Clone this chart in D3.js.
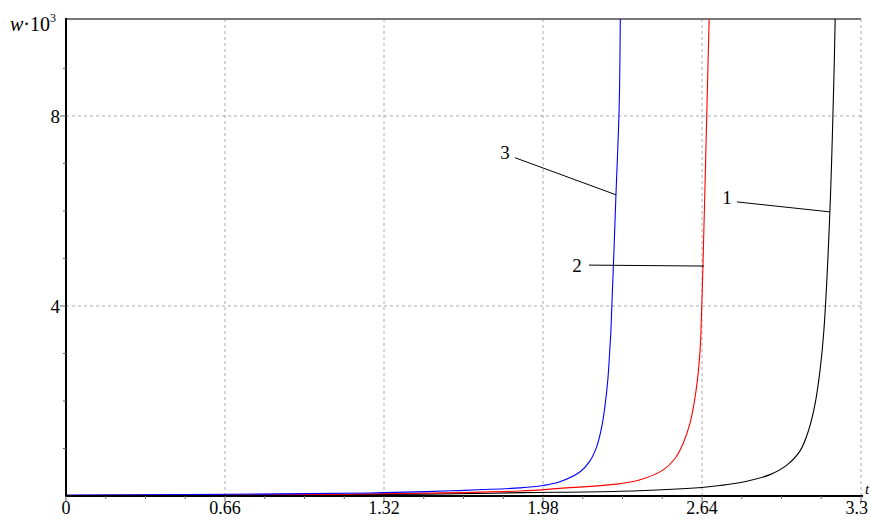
<!DOCTYPE html>
<html>
<head>
<meta charset="utf-8">
<script src="https://cdn.jsdelivr.net/npm/d3@7"></script>
<style>
  body { margin: 0; background: #fff; }
  text { font-family: "Liberation Serif", "Times New Roman", serif; }
</style>
</head>
<body>
<svg id="chart" width="870" height="520"></svg>
<script>
// curve 1 (black)
var t1 = [0, 0.5, 1.0, 1.5, 1.9, 2.3, 2.64, 2.715, 2.826, 2.922, 2.992, 3.047, 3.081, 3.109, 3.13, 3.146, 3.171, 3.188, 3.193];
var w1 = [0.01, 0.015, 0.025, 0.04, 0.07, 0.10, 0.18, 0.22, 0.31, 0.45, 0.65, 0.95, 1.36, 1.93, 2.65, 3.49, 6.0, 8.9, 10.1];
// curve 2 (red)
var t2 = [0, 0.5, 1.0, 1.5, 1.885, 2.05, 2.30, 2.383, 2.479, 2.528, 2.562, 2.59, 2.607, 2.621, 2.632, 2.636, 2.644, 2.663, 2.67];
var w2 = [0.01, 0.02, 0.03, 0.06, 0.105, 0.16, 0.26, 0.34, 0.55, 0.79, 1.11, 1.53, 1.95, 2.44, 3.07, 3.49, 4.84, 8.7, 10.1];
// curve 3 (blue)
var t3 = [0, 0.5, 1.0, 1.32, 1.6, 1.885, 1.979, 2.05, 2.134, 2.175, 2.203, 2.224, 2.237, 2.249, 2.258, 2.262, 2.283, 2.296, 2.301];
var w3 = [0.02, 0.03, 0.05, 0.07, 0.11, 0.17, 0.22, 0.30, 0.51, 0.74, 1.04, 1.46, 1.88, 2.44, 3.14, 3.49, 6.36, 8.15, 10.1];

var xTicks = [0, 0.66, 1.32, 1.98, 2.64, 3.3];
var yTicks = [4, 8];
// curve labels: [text, label t, label w, line start t, w, line end t, w]
var labels = [
  ["1", 2.744, 6.29, 2.785, 6.19, 3.171, 5.98],
  ["2", 2.121, 4.86, 2.171, 4.86, 2.648, 4.84],
  ["3", 1.822, 7.24, 1.864, 7.12, 2.283, 6.34]
];

var x = d3.scaleLinear().domain([0, 3.3]).range([66, 861]);
var y = d3.scaleLinear().domain([0, 10.04]).range([496, 19]);

var svg = d3.select("#chart").attr("font-family", "'Liberation Serif', serif");

svg.append("defs").append("clipPath").attr("id", "clip")
  .append("rect").attr("x", 66).attr("y", 19).attr("width", 795).attr("height", 477);

// grid
svg.selectAll(".vgrid").data(xTicks.slice(1))
  .enter().append("line")
    .attr("x1", function(d){ return x(d); }).attr("x2", function(d){ return x(d); })
    .attr("y1", y(10.04)).attr("y2", y(0))
    .attr("stroke", "#aaa").attr("stroke-dasharray", "3,3");
svg.selectAll(".hgrid").data(yTicks)
  .enter().append("line")
    .attr("x1", x(0)).attr("x2", x(3.3))
    .attr("y1", function(d){ return y(d); }).attr("y2", function(d){ return y(d); })
    .attr("stroke", "#aaa").attr("stroke-dasharray", "3,3");

// top frame
svg.append("line").attr("x1", x(0)).attr("x2", x(3.3)).attr("y1", y(10.04)).attr("y2", y(10.04))
  .attr("stroke", "#777").attr("stroke-width", 2);

// curves
var line = d3.line()
  .x(function(d){ return x(d[0]); })
  .y(function(d){ return y(d[1]); })
  .curve(d3.curveCatmullRom.alpha(0.5));

var series = [[t1, w1, "#000"], [t2, w2, "#f00"], [t3, w3, "#00f"]];
svg.append("g").attr("clip-path", "url(#clip)")
  .selectAll("path").data(series)
  .enter().append("path")
    .attr("d", function(d){ return line(d3.zip(d[0], d[1])); })
    .attr("fill", "none")
    .attr("stroke", function(d){ return d[2]; })
    .attr("stroke-width", 1.1);

// axes
svg.append("line").attr("x1", x(0)).attr("x2", x(3.3) + 2).attr("y1", y(0)).attr("y2", y(0))
  .attr("stroke", "#000").attr("stroke-width", 2);
svg.append("line").attr("x1", x(0)).attr("x2", x(0)).attr("y1", y(0) + 1).attr("y2", y(10.04) - 1)
  .attr("stroke", "#000").attr("stroke-width", 2);

// ticks
var xMinor = d3.range(0, 20).map(function(i){ return i * 0.165; }).filter(function(v, i){ return i % 4 != 0; });
svg.selectAll(".xmin").data(xMinor).enter().append("line")
  .attr("x1", function(d){ return x(d); }).attr("x2", function(d){ return x(d); })
  .attr("y1", y(0)).attr("y2", y(0) + 3).attr("stroke", "#666");
svg.selectAll(".xmaj").data(xTicks).enter().append("line")
  .attr("x1", function(d){ return x(d); }).attr("x2", function(d){ return x(d); })
  .attr("y1", y(0)).attr("y2", y(0) + 6).attr("stroke", "#666");
var yMinor = [1, 2, 3, 5, 6, 7, 9];
svg.selectAll(".ymin").data(yMinor).enter().append("line")
  .attr("x1", x(0) - 3).attr("x2", x(0))
  .attr("y1", function(d){ return y(d); }).attr("y2", function(d){ return y(d); })
  .attr("stroke", "#666");
svg.selectAll(".ymaj").data(yTicks).enter().append("line")
  .attr("x1", x(0) - 6).attr("x2", x(0))
  .attr("y1", function(d){ return y(d); }).attr("y2", function(d){ return y(d); })
  .attr("stroke", "#666");

// tick labels
svg.selectAll(".xlab").data(xTicks).enter().append("text")
  .attr("x", function(d, i){ return i == xTicks.length - 1 ? 868 : x(d); }).attr("y", 514)
  .attr("text-anchor", function(d, i){ return i == xTicks.length - 1 ? "end" : "middle"; })
  .attr("font-size", 18)
  .text(function(d){ return d === 0 ? "0" : String(d); });
svg.selectAll(".ylab").data(yTicks).enter().append("text")
  .attr("x", 60).attr("y", function(d){ return y(d) + 7; })
  .attr("text-anchor", "end").attr("font-size", 19)
  .text(function(d){ return d; });

// axis titles
var wt = svg.append("text").attr("x", 10).attr("y", 31).attr("font-size", 20);
wt.append("tspan").attr("font-style", "italic").text("w");
wt.append("tspan").text("\u00b710");
wt.append("tspan").attr("font-size", 12).attr("dy", -9).text("3");
svg.append("text").attr("x", 865).attr("y", 494).attr("font-size", 15)
  .attr("font-style", "italic").text("t");

// curve labels
var lab = svg.selectAll(".lab").data(labels).enter().append("g");
lab.append("line")
  .attr("x1", function(d){ return x(d[3]); }).attr("y1", function(d){ return y(d[4]); })
  .attr("x2", function(d){ return x(d[5]); }).attr("y2", function(d){ return y(d[6]); })
  .attr("stroke", "#000").attr("stroke-width", 1);
lab.append("text")
  .attr("x", function(d){ return x(d[1]); }).attr("y", function(d){ return y(d[2]) + 7; })
  .attr("text-anchor", "middle").attr("font-size", 19)
  .text(function(d){ return d[0]; });
</script>
</body>
</html>
